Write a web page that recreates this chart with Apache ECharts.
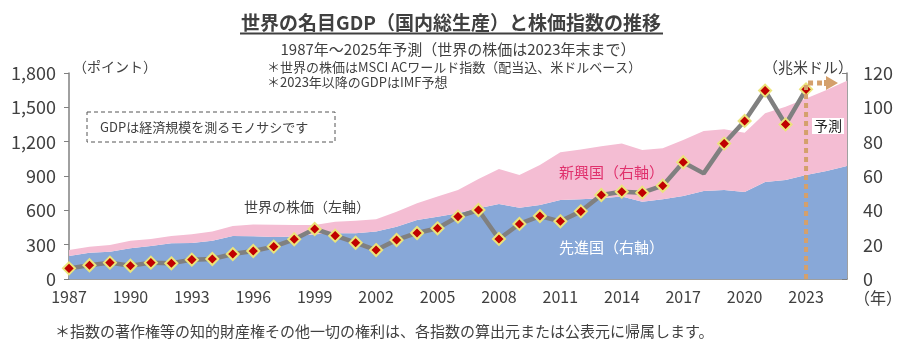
<!DOCTYPE html>
<html><head><meta charset="utf-8">
<script src="https://cdn.jsdelivr.net/npm/echarts@6/dist/echarts.min.js"></script>
<style>html,body{margin:0;padding:0;background:#fff}#c{width:900px;height:350px}</style>
</head><body><div id="c"></div>
<script>
const years = ['1987','1988','1989','1990','1991','1992','1993','1994','1995','1996','1997','1998','1999','2000','2001','2002','2003','2004','2005','2006','2007','2008','2009','2010','2011','2012','2013','2014','2015','2016','2017','2018','2019','2020','2021','2022','2023','2024','2025'];
// 先進国 GDP (兆米ドル, right axis)
const developed = [13.4,15.3,15.9,17.9,19.2,20.8,21.0,22.3,25.0,24.9,24.5,24.8,26.0,26.6,26.6,27.6,30.5,34.4,36.3,38.3,41.2,43.7,41.5,43.1,46.0,46.4,47.0,48.0,45.0,46.4,48.3,51.3,51.8,50.7,56.5,57.7,60.6,62.9,65.8];
// 新興国 GDP (兆米ドル, right axis)
const emerging = [3.5,3.5,3.9,4.4,4.1,4.2,5.0,5.3,5.9,6.9,7.1,6.6,5.5,6.8,7.4,7.2,8.7,9.7,11.7,13.5,17.1,20.4,19.1,23.3,27.8,29.1,30.3,31.0,30.1,29.7,32.7,34.9,35.4,34.5,40.0,42.7,44.6,47.2,49.7];
// 世界の株価 MSCI ACWI (ポイント, left axis)
const stock = [93,120,143,116,143,137,169,175,218,245,283,347,437,379,317,253,341,402,443,545,603,350,481,550,504,591,734,763,754,815,1020,923,1183,1381,1646,1351,1657,null,null];
const noMarkerYears = ['2018'];
const leftTicks = [0,300,600,900,1200,1500,1800];
const rightTicks = [0,20,40,60,80,100,120];
const forecastYear = '2023';
const arrowLevel = 114.2;

const FONT = '"Noto Sans CJK JP","Noto Sans",sans-serif';
const TXT = '#404040';
const chart = echarts.init(document.getElementById('c'), null, {renderer:'canvas'});

const stockData = stock.map((v,i)=> noMarkerYears.includes(years[i]) ? {value:v, symbol:'none'} : v);

chart.setOption({
  animation:false,
  textStyle:{fontFamily:FONT},
  grid:{left:69,right:53,top:73,bottom:71,containLabel:false},
  xAxis:{type:'category',data:years,boundaryGap:false,
    axisLine:{lineStyle:{color:'#808080',width:1.5}},
    axisTick:{inside:true,length:8,interval:2,lineStyle:{color:'#808080'}},
    axisLabel:{interval:2,color:TXT,fontSize:16,margin:10,fontFamily:FONT}},
  yAxis:[
    {type:'value',min:leftTicks[0],max:leftTicks[leftTicks.length-1],interval:leftTicks[1]-leftTicks[0],
      splitLine:{show:false},
      axisLine:{show:true,lineStyle:{color:'#808080',width:1.5}},
      axisTick:{show:true,length:5,lineStyle:{color:'#808080'}},
      axisLabel:{color:TXT,fontSize:18,margin:13,fontFamily:FONT,formatter:v=>v.toLocaleString('en-US')}},
    {type:'value',min:rightTicks[0],max:rightTicks[rightTicks.length-1],interval:rightTicks[1]-rightTicks[0],
      position:'right',splitLine:{show:false},
      axisLine:{show:true,lineStyle:{color:'#808080',width:1.5}},
      axisTick:{show:true,inside:true,length:5,lineStyle:{color:'#808080'}},
      axisLabel:{color:TXT,fontSize:18,margin:16,fontFamily:FONT}}
  ],
  series:[
    {name:'先進国',type:'line',yAxisIndex:1,stack:'gdp',data:developed,symbol:'none',
      lineStyle:{width:0},areaStyle:{color:'#88a8d8',opacity:1},z:1},
    {name:'新興国',type:'line',yAxisIndex:1,stack:'gdp',data:emerging,symbol:'none',
      lineStyle:{width:0},areaStyle:{color:'#f4bdd3',opacity:1},z:1},
    {name:'世界の株価',type:'line',yAxisIndex:0,data:stockData,symbol:'diamond',symbolSize:12,
      lineStyle:{color:'#808080',width:4.5},
      itemStyle:{color:'#c00000',borderColor:'#ebe47a',borderWidth:2},z:5}
  ]
});

const x23 = chart.convertToPixel({xAxisIndex:0}, forecastYear);
const y0 = chart.convertToPixel({yAxisIndex:1}, 0);
const yA = chart.convertToPixel({yAxisIndex:1}, arrowLevel);
const xEnd = chart.convertToPixel({xAxisIndex:0}, years[years.length-1]);
const tan = '#d4a06c';

function t(text,x,y,size,opts){
  return {type:'text',x:x,y:y,z:100,style:Object.assign({text:text,font:(opts&&opts.bold?'bold ':'')+size+'px '+FONT,fill:TXT,align:'left',verticalAlign:'middle'},(opts&&opts.style)||{})};
}

chart.setOption({graphic:{elements:[
  {type:'line',z:50,shape:{x1:x23,y1:y0,x2:x23,y2:yA-2},style:{stroke:tan,lineWidth:4,lineDash:[5,4]}},
  {type:'line',z:50,shape:{x1:x23+2,y1:yA,x2:xEnd-25,y2:yA},style:{stroke:tan,lineWidth:5,lineDash:[5,4]}},
  {type:'polygon',z:50,shape:{points:[[xEnd-23,yA-3],[xEnd-21,yA-3],[xEnd-21,yA-7],[xEnd-9,yA],[xEnd-21,yA+7],[xEnd-21,yA+3],[xEnd-23,yA+3]]},style:{fill:tan}},
  t('世界の名目GDP（国内総生産）と株価指数の推移',451,23,19,{bold:true,style:{align:'center'}}),
  {type:'line',z:100,shape:{x1:240,y1:33.5,x2:663,y2:33.5},style:{stroke:'#404040',lineWidth:2}},
  t('1987年～2025年予測（世界の株価は2023年末まで）',458,49,15,{style:{align:'center'}}),
  t('＊世界の株価はMSCI ACワールド指数（配当込、米ドルベース）',267,67,13),
  t('＊2023年以降のGDPはIMF予想',267,82,13),
  t('（ポイント）',73,67,14),
  t('（兆米ドル）',763,67,15),
  {type:'rect',z:90,shape:{x:87,y:112,width:248,height:30},style:{fill:'#fff',stroke:'#555',lineWidth:1,lineDash:[4,3]}},
  t('GDPは経済規模を測るモノサシです',100,127,13),
  t('世界の株価（左軸）',244,207,14),
  t('新興国（右軸）',559,172,15,{style:{fill:'#e0306c'}}),
  t('先進国（右軸）',559,247,15,{style:{fill:'#ffffff'}}),
  t('予測',812,126,14,{style:{fill:'#222',backgroundColor:'#fff',padding:[1,2,1,2]}}),
  t('（年）',878,298,16,{style:{align:'center'}}),
  t('＊指数の著作権等の知的財産権その他一切の権利は、各指数の算出元または公表元に帰属します。',55,331,15)
]}});
</script>
</body></html>
